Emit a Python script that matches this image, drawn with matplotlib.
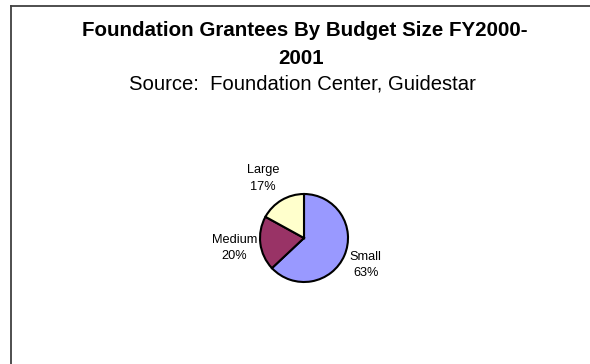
#!/usr/bin/python3

import matplotlib
matplotlib.use("Agg")
import matplotlib.pyplot as plt
from matplotlib.lines import Line2D

# grantee counts by budget size, in percent
categories = ["Small", "Medium", "Large"]
shares = [63, 20, 17]
colors = ["#9999FF", "#993366", "#FFFFCC"]

title_lines = ["Foundation Grantees By Budget Size FY2000-", "2001"]
subtitle = "Source:  Foundation Center, Guidestar"

W, H = 590, 364


def main():
    """
    draw the budget size pie with its chart title block.
    """
    plt.rcParams["font.family"] = ["Liberation Sans", "DejaVu Sans"]
    fig = plt.figure(figsize=(W / 100, H / 100), dpi=100)
    fig.patch.set_facecolor("white")

    # chart area frame (left and top edges show, the rest runs off)
    x0, y0 = 10.5 / W, 1 - 5.5 / H
    fig.add_artist(Line2D([x0, x0], [0, y0], transform=fig.transFigure,
                          color="#404040", lw=1.3))
    fig.add_artist(Line2D([x0, 1], [y0, y0], transform=fig.transFigure,
                          color="#404040", lw=1.3))

    fig.text(305 / W, 1 - 31 / H, title_lines[0], ha="center", va="center",
             fontsize=14.8, fontweight="bold")
    fig.text(301 / W, 1 - 59 / H, title_lines[1], ha="center", va="center",
             fontsize=14.8, fontweight="bold")
    fig.text(302 / W, 1 - 84 / H, subtitle, ha="center", va="center",
             fontsize=14.6)

    # pie: centre and radius in pixels
    cx, cy, r = 304, 238, 44
    ax = fig.add_axes([(cx - r) / W, 1 - (cy + r) / H, 2 * r / W, 2 * r / H])
    ax.pie(shares, colors=colors, startangle=90, counterclock=False,
           wedgeprops=dict(edgecolor="black", linewidth=1.5))
    ax.set_xlim(-1, 1)
    ax.set_ylim(-1, 1)
    ax.set_aspect("equal")
    ax.axis("off")

    # label anchors, in pie radius units
    label_pos = [(1.40, -0.61), (-1.58, -0.23), (-0.93, 1.35)]
    for name, val, (lx, ly) in zip(categories, shares, label_pos):
        ax.text(lx, ly, "%s\n%d%%" % (name, val), ha="center", va="center",
                fontsize=9.2, linespacing=1.5, clip_on=False)

    fig.savefig("out.png", dpi=100, facecolor="white")


if __name__ == "__main__":
    main()
